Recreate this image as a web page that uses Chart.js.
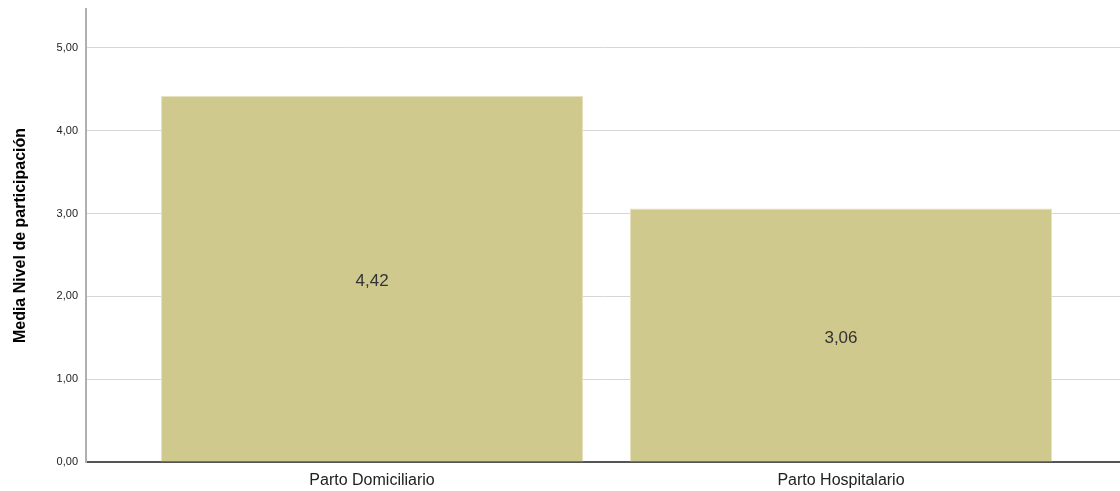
<!DOCTYPE html>
<html>
<head>
<meta charset="utf-8">
<script src="https://cdn.jsdelivr.net/npm/chart.js@4/dist/chart.umd.min.js"></script>
<style>
  html, body { margin: 0; padding: 0; background: #fff; }
  #wrap { width: 1120px; height: 491px; position: relative; }
</style>
</head>
<body>
<div id="wrap"><canvas id="chart"></canvas></div>
<script>
  // datos del gráfico
  const categories = ["Parto Domiciliario", "Parto Hospitalario"];
  const catPositions = [0, 1];
  const means = [4.42, 3.06];
  const meanLabels = ["4,42", "3,06"];
  const yTicks = [0, 1, 2, 3, 4, 5];
  const yTitle = "Media Nivel de participación";

  const BAR_COLOR = "#d0c98e";

  // etiqueta centrada dentro de cada barra
  const barLabels = {
    id: "barLabels",
    afterDatasetsDraw(chart) {
      const ctx = chart.ctx;
      const meta = chart.getDatasetMeta(0);
      ctx.save();
      ctx.font = "17px 'Liberation Sans', Arial, sans-serif";
      ctx.fillStyle = "#333";
      ctx.textAlign = "center";
      ctx.textBaseline = "middle";
      meta.data.forEach((bar, i) => {
        const mid = (bar.y + bar.base) / 2;
        ctx.fillText(meanLabels[i], bar.x, mid + 3);
      });
      ctx.restore();
    }
  };

  new Chart(document.getElementById("chart"), {
    type: "bar",
    data: {
      datasets: [{
        data: catPositions.map((x, i) => ({ x: x, y: means[i] })),
        backgroundColor: BAR_COLOR,
        borderColor: "#e6e2bf",
        borderWidth: 1,
        barPercentage: 0.9,
        categoryPercentage: 1
      }]
    },
    options: {
      responsive: true,
      maintainAspectRatio: false,
      animation: false,
      layout: { padding: { top: 9, right: 0, bottom: 0, left: 0 } },
      plugins: { legend: { display: false }, tooltip: { enabled: false } },
      scales: {
        x: {
          type: "linear",
          offset: false,
          min: -0.61,
          max: 1.595,
          afterBuildTicks: (s) => { s.ticks = catPositions.map(v => ({ value: v })); },
          afterFit: (s) => { s.height = 29; s.paddingLeft = 0; s.paddingRight = 0; },
          grid: { display: false, drawTicks: false, offset: false },
          border: { color: "#555", width: 2 },
          ticks: {
            autoSkip: false,
            maxRotation: 0,
            padding: 9,
            color: "#222",
            font: { family: "'Liberation Sans', Arial, sans-serif", size: 16 },
            callback: (v) => categories[v]
          }
        },
        y: {
          min: 0,
          max: 5.47,
          afterBuildTicks: (s) => { s.ticks = yTicks.map(v => ({ value: v })); },
          afterFit: (s) => { s.width = 86; s.paddingTop = 0; s.paddingBottom = 0; },
          grid: { color: "#d6d6d6", lineWidth: 1, drawTicks: false },
          border: { color: "#b0b0b0", width: 2 },
          ticks: {
            padding: 8,
            color: "#222",
            font: { family: "'Liberation Sans', Arial, sans-serif", size: 11 },
            callback: (v) => v.toFixed(2).replace(".", ",")
          },
          title: {
            display: true,
            text: yTitle,
            color: "#000",
            padding: { top: 11, bottom: 0 },
            font: { family: "'Liberation Sans', Arial, sans-serif", size: 16, weight: "bold" }
          }
        }
      }
    },
    plugins: [barLabels]
  });
</script>
</body>
</html>
